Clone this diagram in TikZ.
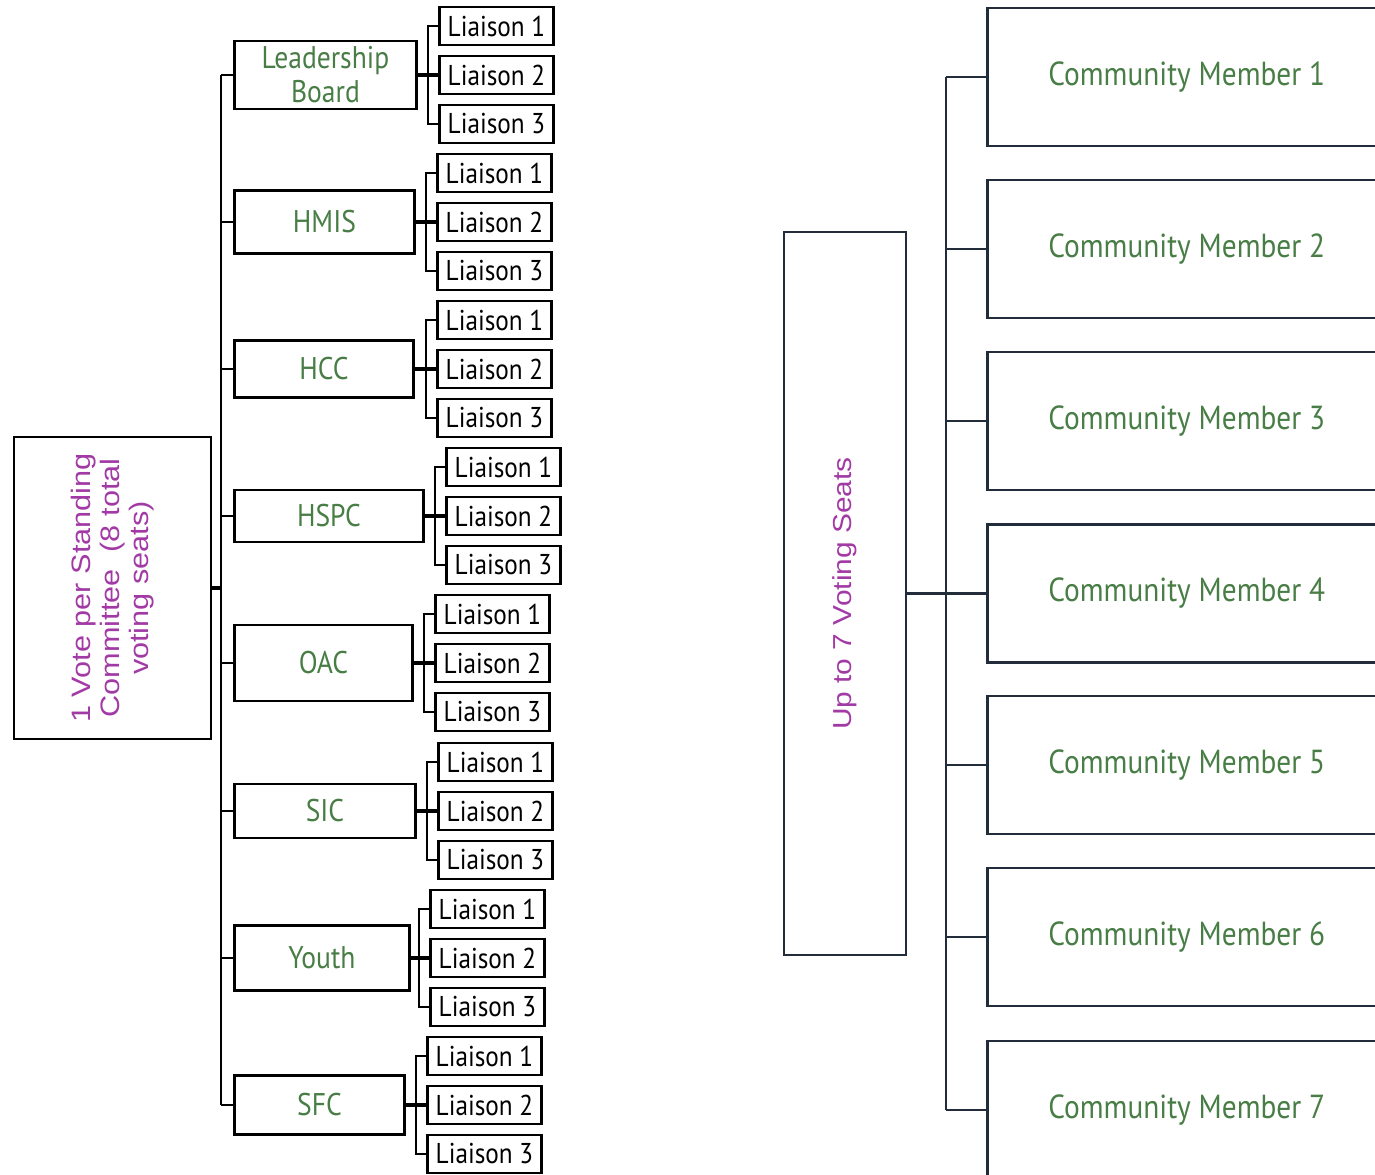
\documentclass[tikz,border=0pt]{standalone}
\usepackage{fontspec}
\setmainfont{Liberation Sans}
\newfontfamily\din[FakeStretch=0.88]{PT Sans}
\newfontfamily\wide[FakeStretch=1.15]{Liberation Sans}
\definecolor{grn}{HTML}{487D45}
\definecolor{pur}{HTML}{A23AA5}
\definecolor{navy}{HTML}{232C3A}
\begin{document}
\begin{tikzpicture}[x=0.75pt,y=-0.75pt,
  blk/.style={line width=2.2pt,draw=black},
  cbox/.style={blk,inner sep=0pt,text=grn,align=center,font=\din\fontsize{23.5}{25.5}\selectfont},
  lbox/.style={blk,inner sep=0pt,minimum width=85.5pt,minimum height=28.5pt,font=\din\fontsize{21.5}{24}\selectfont},
  link/.style={line width=2.2pt,draw=black},
  nbox/.style={draw=navy,line width=2.2pt,inner sep=0pt},
  nlink/.style={draw=navy,line width=2.2pt},
  cmbox/.style={nbox,minimum width=299pt,minimum height=103.5pt,anchor=west,text=grn,font=\din\fontsize{25}{28}\selectfont},
  vtext/.style={text=pur,align=center,rotate=90}
]
\useasboundingbox (0,0) rectangle (1375,1175);
\clip (0,0) rectangle (1375,1175);

% ---------- left tree ----------
\node[blk,vtext,inner sep=0pt,minimum width=226.5pt,minimum height=147.75pt,
      font=\wide\fontsize{20}{22}\selectfont] (vote) at (112.5,588)
      {1 Vote per Standing\\Committee~~(8 total\\voting seats)};
\coordinate (tt) at (221,75);
\coordinate (tb) at (221,1105);
\draw[link] (tt) -- (tb);
\draw[line width=3pt] (vote.south) -- (vote.south -| tt);

\foreach \nm/\lab/\cy/\rx/\lx/\h in {
  lb/{Leadership\\Board}/75/415/438/68,
  hmis/HMIS/222/413/436/63,
  hcc/HCC/369/412/436/57,
  hspc/HSPC/516/422/445/52,
  oac/OAC/663/411/434/76,
  sic/SIC/811/414/437/54,
  youth/Youth/958/408/429/65,
  sfc/SFC/1105/403/426/59}{
  \node[cbox,anchor=west,minimum width={(\rx-233)*0.75pt},minimum height={\h*0.75pt}] (\nm) at (233,\cy) {\lab};
  \draw[link] (\nm.west -| tt) -- (\nm.west);
  \foreach \j in {1,2,3}{
    \node[lbox,anchor=west] (\nm l\j) at (\lx,{\cy+(\j-2)*49}) {Liaison \j};
  }
  \coordinate (\nm b) at ({\lx-10},\cy);
  \draw[link] (\nm l1.west) -| (\nm l3.west -| \nm b) -- (\nm l3.west);
  \draw[line width=3pt] (\nm.east) -- (\nm l2.west);
}

% ---------- right tree ----------
\node[nbox,vtext,minimum width=542.25pt,minimum height=91.5pt,
      font=\wide\fontsize{19.5}{22}\selectfont] (up) at (845,593.5) {Up to 7 Voting Seats};
\coordinate (rt) at (946,593.5);
\draw[nlink,line width=2.6pt] (up.south) -- (rt);

\foreach \i/\cy in {1/77,2/249,3/421,4/593.5,5/765,6/937,7/1110}{
  \node[cmbox] (cm\i) at (986,\cy) {Community Member \i};
  \draw[nlink] (cm\i.west -| rt) -- (cm\i.west);
}
\draw[nlink] (cm1.west -| rt) -- (cm7.west -| rt);
\end{tikzpicture}
\end{document}
